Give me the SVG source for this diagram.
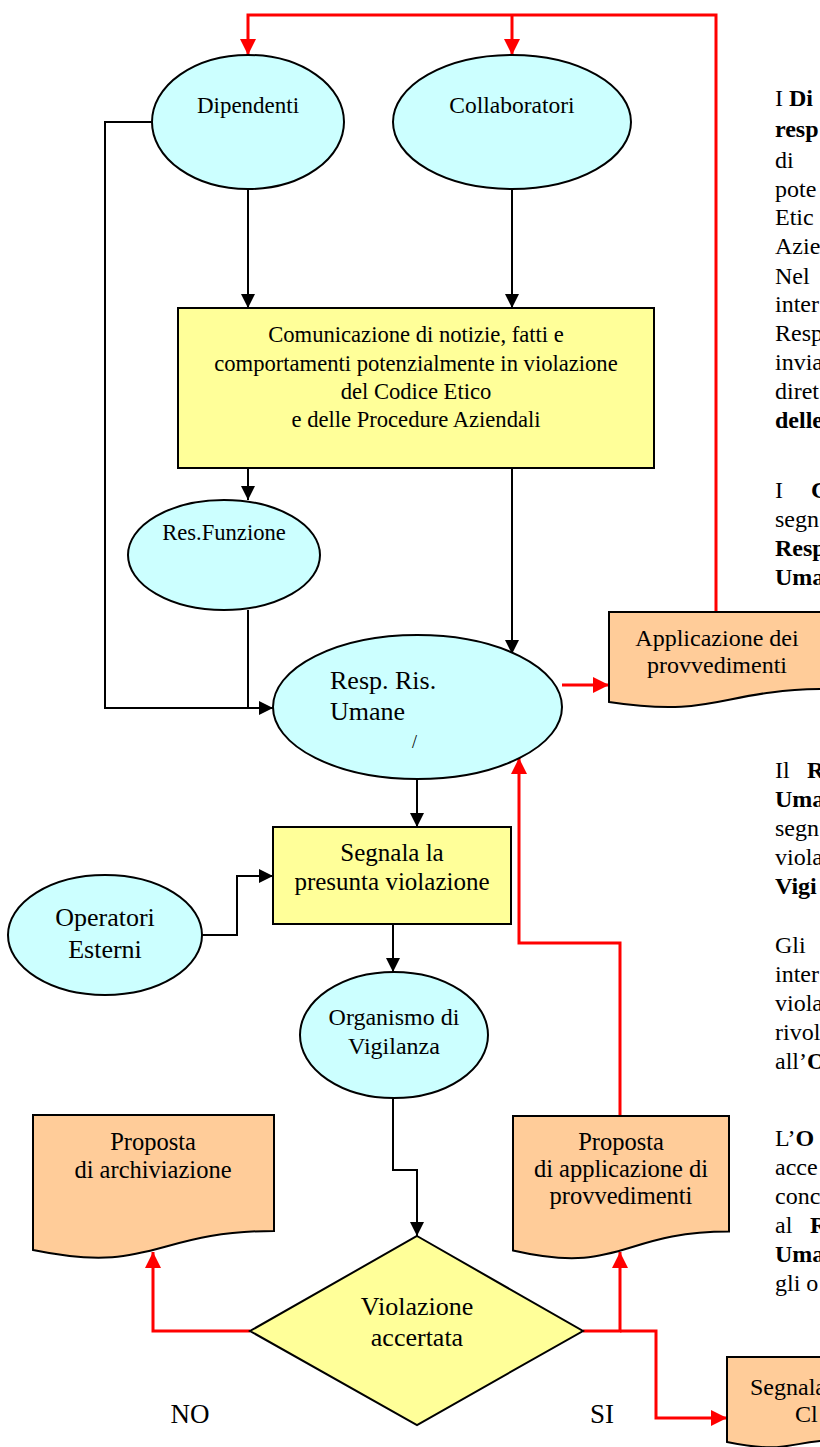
<svg xmlns="http://www.w3.org/2000/svg" width="820" height="1447" viewBox="0 0 820 1447">
<defs>
<style>
.ell{fill:#CCFFFF;stroke:#000;stroke-width:2}
.box{fill:#FFFF99;stroke:#000;stroke-width:2}
.doc{fill:#FFCC99;stroke:#000;stroke-width:2}
.t{font-family:"Liberation Serif","Times New Roman",serif;font-size:24px;fill:#000}
.c{text-anchor:middle}
.r{font-family:"Liberation Serif","Times New Roman",serif;font-size:24px;fill:#000}
.b{font-weight:bold}
.k{fill:none;stroke:#000;stroke-width:2}
.red{fill:none;stroke:#FF0000;stroke-width:3}
</style>
<marker id="ak" viewBox="0 0 10 10" refX="10" refY="5" markerWidth="14" markerHeight="14" markerUnits="userSpaceOnUse" orient="auto"><path d="M0,0 L10,5 L0,10 z" fill="#000"/></marker>
<marker id="ar" viewBox="0 0 10 10" refX="10" refY="5" markerWidth="16" markerHeight="16" markerUnits="userSpaceOnUse" orient="auto"><path d="M0,0 L10,5 L0,10 z" fill="#FF0000"/></marker>
</defs>
<rect width="820" height="1447" fill="#fff"/>

<g id="connectors">
<path class="red" d="M716,612 V15 H248 V55" marker-end="url(#ar)"/>
<path class="red" d="M512,15 V55" marker-end="url(#ar)"/>
<path class="k" d="M152,122 H105 V708 H273" marker-end="url(#ak)"/>
<path class="k" d="M248,185 V308" marker-end="url(#ak)"/>
<path class="k" d="M512,189 V308" marker-end="url(#ak)"/>
<path class="k" d="M248,468 V500" marker-end="url(#ak)"/>
<path class="k" d="M512,468 V654" marker-end="url(#ak)"/>
<path class="k" d="M248,610 V708"/>
<path class="red" d="M562,685 H609" marker-end="url(#ar)"/>
<path class="k" d="M417,779 V827" marker-end="url(#ak)"/>
<path class="k" d="M202,935 H237 V876 H273" marker-end="url(#ak)"/>
<path class="k" d="M393,924 V972" marker-end="url(#ak)"/>
<path class="k" d="M393,1098 V1170 H417 V1236" marker-end="url(#ak)"/>
<path class="red" d="M250,1331 H153 V1252" marker-end="url(#ar)"/>
<path class="red" d="M583,1331 H620 V1252" marker-end="url(#ar)"/>
<path class="red" d="M620,1331 H656 V1418 H727" marker-end="url(#ar)"/>
<path class="red" d="M620,1116 V943 H519 V758" marker-end="url(#ar)"/>
</g>

<g id="dipendenti">
<ellipse class="ell" cx="248" cy="122" rx="96" ry="67"/>
<text class="t c" x="248" y="113" style="font-size:23px">Dipendenti</text>
</g>
<g id="collaboratori">
<ellipse class="ell" cx="512" cy="122" rx="119" ry="67"/>
<text class="t c" x="512" y="113" style="font-size:23.5px">Collaboratori</text>
</g>
<g id="comunicazione">
<rect class="box" x="178" y="308" width="476" height="160"/>
<g style="font-size:22.6px">
<text class="t c" x="416" y="342" style="font-size:22.6px">Comunicazione di notizie, fatti e</text>
<text class="t c" x="416" y="371" style="font-size:22.6px">comportamenti potenzialmente in violazione</text>
<text class="t c" x="416" y="399" style="font-size:22.6px">del Codice Etico</text>
<text class="t c" x="416" y="427" style="font-size:22.6px">e delle Procedure Aziendali</text>
</g>
</g>
<g id="res-funzione">
<ellipse class="ell" cx="224" cy="555" rx="96" ry="55"/>
<text class="t c" x="224" y="540" style="font-size:22.6px">Res.Funzione</text>
</g>
<g id="resp-ris-umane">
<ellipse class="ell" cx="417.5" cy="707" rx="144.5" ry="72"/>
<text class="t" x="330" y="689" style="font-size:26px">Resp. Ris.</text>
<text class="t" x="330" y="720" style="font-size:26px">Umane</text>
<text class="t" x="412" y="748" style="font-size:18px">/</text>
</g>
<g id="applicazione-provvedimenti">
<path class="doc" d="M609,612 H829 V689 C719,689 719,718.8 609,702 Z"/>
<text class="t c" x="717" y="646">Applicazione dei</text>
<text class="t c" x="717" y="673">provvedimenti</text>
</g>
<g id="segnala">
<rect class="box" x="273" y="827" width="238" height="97"/>
<text class="t c" x="392" y="861" style="font-size:25px">Segnala la</text>
<text class="t c" x="392" y="890" style="font-size:25px">presunta violazione</text>
</g>
<g id="operatori-esterni">
<ellipse class="ell" cx="105" cy="935" rx="97" ry="60"/>
<text class="t c" x="105" y="926" style="font-size:26px">Operatori</text>
<text class="t c" x="105" y="958" style="font-size:26px">Esterni</text>
</g>
<g id="organismo">
<ellipse class="ell" cx="394" cy="1035" rx="94" ry="63"/>
<text class="t c" x="394" y="1025">Organismo di</text>
<text class="t c" x="394" y="1054">Vigilanza</text>
</g>
<g id="proposta-archiviazione">
<path class="doc" d="M33,1115 H274 V1231 C153.5,1231 153.5,1275 33,1250 Z"/>
<text class="t c" x="153" y="1150" style="font-size:24.5px">Proposta</text>
<text class="t c" x="153" y="1178" style="font-size:24.5px">di archiviazione</text>
</g>
<g id="proposta-applicazione">
<path class="doc" d="M513,1116 H729 V1231.5 C621,1231.5 621,1275.5 513,1250.5 Z"/>
<text class="t c" x="621" y="1150" style="font-size:24.5px">Proposta</text>
<text class="t c" x="621" y="1177" style="font-size:24.5px">di applicazione di</text>
<text class="t c" x="621" y="1204" style="font-size:24.5px">provvedimenti</text>
</g>
<g id="violazione-accertata">
<path class="box" d="M417,1236 L583,1331 L417,1425 L250,1331 Z"/>
<text class="t c" x="417" y="1315" style="font-size:26px">Violazione</text>
<text class="t c" x="417" y="1346" style="font-size:26px">accertata</text>
</g>
<g id="segnalazione">
<path class="doc" d="M727,1357 H840 V1440 C790,1440 790,1455 727,1442 Z"/>
<text class="t" x="750" y="1395">Segnala</text>
<text class="t" x="795" y="1422">Cl</text>
</g>
<g id="labels">
<text class="t c" x="190" y="1423" style="font-size:27px">NO</text>
<text class="t c" x="602" y="1423" style="font-size:27px">SI</text>
</g>

<g id="side-text">
<text class="r" x="775" y="106">I <tspan class="b">Di</tspan></text>
<text class="r b" x="775" y="137">resp</text>
<text class="r" x="775" y="168">di</text>
<text class="r" x="775" y="197">pote</text>
<text class="r" x="775" y="225">Etic</text>
<text class="r" x="775" y="254">Azie</text>
<text class="r" x="775" y="284">Nel</text>
<text class="r" x="775" y="312">inter</text>
<text class="r" x="775" y="341">Resp</text>
<text class="r" x="775" y="370">invia</text>
<text class="r" x="775" y="399">diret</text>
<text class="r b" x="775" y="428">delle</text>
<text class="r" x="775" y="498">I</text>
<text class="r b" x="811" y="498">C</text>
<text class="r" x="775" y="527">segn</text>
<text class="r b" x="775" y="556">Resp</text>
<text class="r b" x="775" y="585">Uma</text>
<text class="r" x="775" y="778">Il</text>
<text class="r b" x="807" y="778">R</text>
<text class="r b" x="775" y="807">Uma</text>
<text class="r" x="775" y="836">segn</text>
<text class="r" x="775" y="865">viola</text>
<text class="r b" x="775" y="894">Vigi</text>
<text class="r" x="775" y="953">Gli</text>
<text class="r" x="775" y="982">inter</text>
<text class="r" x="775" y="1011">viola</text>
<text class="r" x="775" y="1040">rivol</text>
<text class="r" x="775" y="1069">all’<tspan class="b">O</tspan></text>
<text class="r" x="775" y="1146">L’<tspan class="b">O</tspan></text>
<text class="r" x="775" y="1175">acce</text>
<text class="r" x="775" y="1204">conc</text>
<text class="r" x="775" y="1233">al</text>
<text class="r b" x="810" y="1233">R</text>
<text class="r b" x="775" y="1262">Uma</text>
<text class="r" x="775" y="1291">gli o</text>
</g>
</svg>
